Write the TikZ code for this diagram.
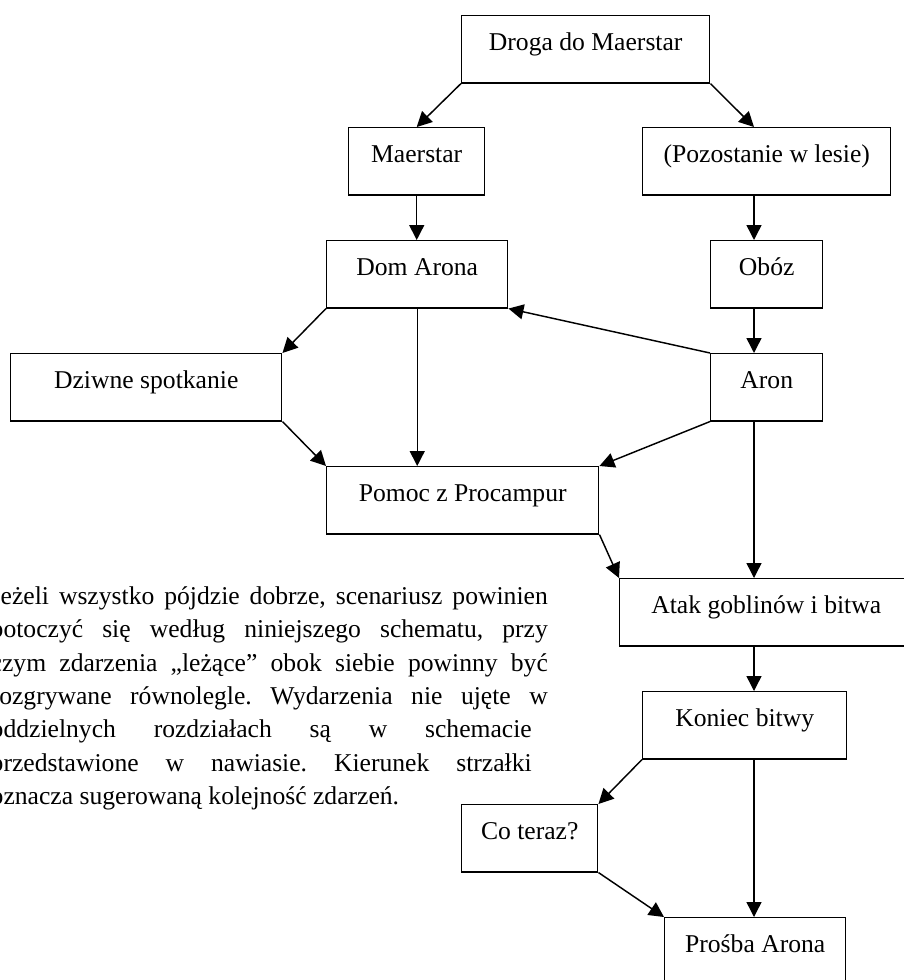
\documentclass[tikz,border=0pt]{standalone}
\usepackage{fontspec}
\setmainfont{Liberation Serif}
\usetikzlibrary{
arrows.meta,
calc,
positioning
}
\frenchspacing
\tikzset{>={Triangle[length=7.2pt,width=7.2pt]}}
\tikzset{pole/.style={draw, line width=0.7pt, anchor=north west, inner xsep=0pt, inner ysep=0pt, text height=16.8pt, text depth=15.4pt, font=\fontsize{12.3}{14}\selectfont}}

\begin{document}
\begin{tikzpicture}[x=0.48pt, y=-0.48pt, line width=0.7pt]
	\useasboundingbox (0,0) rectangle (903,980);
	\node[pole, minimum width=119.04pt] (droga) at (461,15) {Droga do Maerstar};
	\node[pole, minimum width=65.28pt] (maerstar) at (348,127) {Maerstar};
	\node[pole, minimum width=119.04pt] (las) at (642,127) {(Pozostanie w lesie)};
	\node[pole, minimum width=86.88pt] (dom) at (326,240) {Dom Arona};
	\node[pole, minimum width=53.76pt] (oboz) at (710,240) {Obóz};
	\node[pole, minimum width=130.08pt] (dziwne) at (10,353) {Dziwne spotkanie};
	\node[pole, minimum width=53.76pt] (aron) at (710,353) {Aron};
	\node[pole, minimum width=130.56pt] (pomoc) at (326,466) {Pomoc z Procampur};
	\node[pole, minimum width=140.64pt] (atak) at (619,578) {Atak goblinów i bitwa};
	\node[pole, minimum width=97.92pt] (koniec) at (642,691) {Koniec bitwy};
	\node[pole, minimum width=65.28pt] (coteraz) at (461,804) {Co teraz?};
	\node[pole, minimum width=86.88pt] (prosba) at (664,917) {Prośba Arona};
	\node[anchor=north west, inner sep=0pt, align=left, font=\fontsize{12.3}{16}\selectfont] (opis) at (-10,586) {%
		\makebox[267.4pt][s]{Jeżeli wszystko pójdzie dobrze, scenariusz powinien}\\
		\makebox[267.4pt][s]{potoczyć się według niniejszego schematu, przy}\\
		\makebox[267.4pt][s]{czym zdarzenia „leżące” obok siebie powinny być}\\
		\makebox[267.4pt][s]{rozgrywane równolegle. Wydarzenia nie ujęte w}\\
		\makebox[259.7pt][s]{oddzielnych rozdziałach są w schemacie}\\
		\makebox[259.7pt][s]{przedstawione w nawiasie. Kierunek strzałki}\\
		oznacza sugerowaną kolejność zdarzeń.};
	\coordinate (kol) at (754,0);
	\draw[->] (droga.south west) -- (maerstar.north);
	\draw[->] (droga.south east) -- (las.north -| kol);
	\draw[->] (maerstar.south) -- (maerstar.south |- dom.north);
	\draw[->] (las.south -| kol) -- (oboz.north -| kol);
	\draw[->] (oboz.south -| kol) -- (aron.north -| kol);
	\draw[->] (aron.north west) -- (dom.south east);
	\draw[->] (dom.south west) -- (dziwne.north east);
	\draw[->] (dom.south) -- (dom.south |- pomoc.north);
	\draw[->] (dziwne.south east) -- (pomoc.north west);
	\draw[->] (aron.south west) -- (pomoc.north east);
	\draw[->] (aron.south -| kol) -- (atak.north -| kol);
	\draw[->] (pomoc.south east) -- (atak.north west);
	\draw[->] (atak.south -| kol) -- (koniec.north -| kol);
	\draw[->] (koniec.south west) -- (coteraz.north east);
	\draw[->] (koniec.south -| kol) -- (prosba.north -| kol);
	\draw[->] (coteraz.south east) -- (prosba.north west);
\end{tikzpicture}
\end{document}
